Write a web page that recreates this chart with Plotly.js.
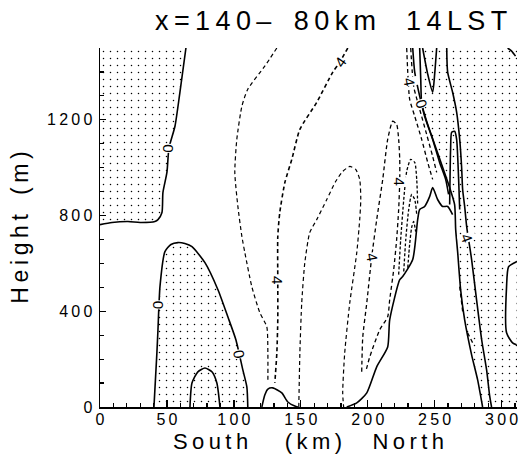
<!DOCTYPE html>
<html>
<head>
<meta charset="utf-8">
<script src="https://cdn.plot.ly/plotly-3.0.1.min.js"></script>
<style>html,body{margin:0;padding:0;background:#fff;}#chart{width:523px;height:454px;}</style>
</head>
<body>
<div id="chart"></div>
<script>
// ---------- axis ticks ----------
const xTickVals = [0, 50, 100, 150, 200, 250, 300];
const yTickVals = [0, 400, 800, 1200];
const X_RANGE = [0, 311.5];
const Y_RANGE = [0, 1500];

// ---------- contour lines (x: km, y: m) ----------
// 0-contour bounding the upper-left stippled area
const zeroTopLeftX = [64.2, 59.7, 56.0, 51.5, 50.0, 47.0, 46.3, 43.3, 41.0, 29.9, 20.9, 9.0, 0];
const zeroTopLeftY = [1500, 1315, 1173, 1081, 980, 896, 813, 783, 775, 771, 775, 771, 762];
// 0-contour dome near the ground (stippled)
const zeroDomeX = [40.3, 42.5, 43.3, 44.8, 48.5, 53.0, 58.2, 63.4, 68.7, 78.4, 88.1, 95.5, 101.5, 106.7, 109.7, 110.4];
const zeroDomeY = [0, 226, 323, 503, 649, 679, 687, 683, 670, 603, 490, 377, 281, 155, 84, 0];
// inner small dome
const innerDomeX = [67.2, 68.7, 73.1, 78.4, 83.6, 87.3, 89.6];
const innerDomeY = [0, 100, 147, 163, 147, 100, 0];
// small bump near 130 km
const bumpX = [120.9, 123.1, 125.4, 129.1, 135.8, 140.3, 145.5, 147.8];
const bumpY = [0, 50, 75, 80, 59, 21, 4, 0];
// dashed positive contours
const dashAX = [132.1, 123.1, 110.4, 106.0, 102.2, 100.7, 103.0, 106.0, 108.2, 113.4, 119.4, 124.6, 125.4, 125.4];
const dashAY = [1500, 1424, 1328, 1257, 1118, 980, 838, 712, 645, 503, 394, 335, 226, 101];
const dashBX = [185.1, 179.1, 173.9, 161.9, 149.3, 143.3, 138.1, 134.3, 132.8, 132.8, 132.8, 132.1, 130.6];
const dashBY = [1500, 1441, 1399, 1273, 1160, 1035, 938, 813, 712, 532, 364, 226, 101];
const dashCX = [148.5, 149.3, 150.7, 153.0, 156.7, 161.9, 169.4, 176.1, 181.3, 186.6, 191.0, 194.0, 194.8, 194.0, 191.8, 186.6, 182.8, 181.3, 182.0];
const dashCY = [0, 226, 436, 603, 729, 783, 867, 943, 984, 1005, 993, 951, 867, 783, 645, 436, 226, 59, 0];
const dashFX = [195.5, 196.3, 199.3, 203.0, 206.7, 211.2, 214.9, 218.7, 221.6, 223.1, 223.9, 223.9, 223.1, 221.6, 219.4, 216.4, 214.9, 209.0, 201.5, 198.5];
const dashFY = [147, 293, 436, 628, 783, 951, 1118, 1194, 1181, 1118, 1035, 943, 825, 700, 574, 448, 377, 323, 209, 147];
const dashD1X = [229.1, 229.9, 231.3, 235.1, 240.3, 244.8, 248.5];
const dashD1Y = [1500, 1399, 1286, 1215, 1118, 1022, 951];
const dashD2X = [232.1, 234.3, 238.8, 244.0, 248.5, 251.5];
const dashD2Y = [1500, 1340, 1244, 1139, 1047, 980];
const dashA1X = [223.1, 224.6, 226.9, 229.1, 232.1, 235.1, 236.6, 237.3];
const dashA1Y = [553, 699, 867, 984, 1035, 1022, 951, 846];
const dashA2X = [226.9, 228.4, 230.6, 232.8, 235.1, 236.6];
const dashA2Y = [566, 700, 825, 888, 867, 804];
const dashA3X = [229.9, 231.3, 232.8, 234.3, 235.8];
const dashA3Y = [582, 679, 750, 775, 733];
const dashE1X = [268.7, 271.0];
const dashE1Y = [503, 394];
const dashE2X = [274.6, 278.4];
const dashE2Y = [310, 268];
// solid lines on the north side
const mountainX = [184.3, 191.8, 199.3, 206.7, 214.9, 216.4, 223.9, 226.1, 233.6, 237.3, 238.8, 242.5, 246.3, 248.5, 252.2, 255.9, 259.7, 263.4];
const mountainY = [0, 17, 59, 168, 251, 364, 532, 545, 616, 783, 825, 838, 880, 917, 867, 838, 838, 804];
const zeroNorthX = [238.8, 239.6, 240.3, 244.0, 250.0, 256.0, 261.2, 264.9, 265.7, 267.2, 269.4, 272.4, 277.6, 282.1, 285.8];
const zeroNorthY = [1500, 1370, 1269, 1194, 1097, 1001, 917, 846, 741, 645, 490, 364, 218, 113, 0];
const solidS1X = [233.6, 235.1, 238.8, 242.5, 248.5, 253.7, 258.2, 260.4];
const solidS1Y = [1500, 1399, 1299, 1215, 1118, 1022, 951, 888];
const solidVX = [241.0, 244.8, 248.5, 250.0, 251.5];
const solidVY = [1500, 1391, 1315, 1391, 1500];
const solidS3X = [259.0, 259.7, 263.4, 266.4, 268.7, 270.1, 270.9, 272.4, 273.9, 277.6, 281.3, 285.1, 288.8, 291.0, 292.5];
const solidS3Y = [1500, 1399, 1315, 1232, 1118, 1005, 909, 838, 754, 616, 448, 281, 155, 50, 0];
const spikeX = [261.2, 261.9, 262.7, 264.9, 266.4, 267.9, 268.7];
const spikeY = [846, 1077, 1148, 1152, 1118, 951, 825];
const bracketX = [311.2, 305.2, 303.7, 303.7, 308.2, 311.2];
const bracketY = [607, 586, 503, 310, 268, 260];
const cornerArcX = [304.5, 307.5, 310.4];
const cornerArcY = [1500, 1487, 1466];

// ---------- contour labels ----------
const labelText = ['0', '0', '0', '0', '4', '4', '4', '4', '4', '4'];
const labelX = [51.5, 43.3, 103.7, 240.3, 132.8, 179.1, 231.3, 223.9, 203.0, 273.9];
const labelY = [1081, 427, 222, 1269, 532, 1441, 1361, 943, 628, 708];
const labelAngle = [90, 90, 80, 70, 90, -55, 80, 90, 80, 70];

// ---------- build ----------
const spaced = s => s.split('').join('\u2009');
const NB = n => '\u00a0'.repeat(n);

const pattern = {shape: '.', size: 7, solidity: 0.035, fgcolor: '#000', bgcolor: 'rgba(0,0,0,0)', fgopacity: 1};
function area(xs, ys, extraX, extraY, color) {
  return {x: xs.concat(extraX), y: ys.concat(extraY), type: 'scatter', mode: 'lines',
          line: {width: 0}, fill: 'toself', fillcolor: color || 'rgba(0,0,0,0)',
          fillpattern: color ? undefined : pattern, hoverinfo: 'skip', showlegend: false};
}
function line(xs, ys, dash, w) {
  return {x: xs, y: ys, type: 'scatter', mode: 'lines',
          line: {color: '#000', width: w || 1.6, dash: dash || 'solid', shape: 'spline', smoothing: 0.6},
          hoverinfo: 'skip', showlegend: false};
}

const traces = [
  area(zeroTopLeftX, zeroTopLeftY, [X_RANGE[0]], [Y_RANGE[1]]),
  area(zeroDomeX, zeroDomeY, [], []),
  area(zeroNorthX, zeroNorthY, [X_RANGE[1], X_RANGE[1]], [Y_RANGE[0], Y_RANGE[1]]),
  area(bracketX, bracketY, [], [], '#ffffff'),
  line(zeroTopLeftX, zeroTopLeftY),
  line(zeroDomeX, zeroDomeY),
  line(innerDomeX, innerDomeY),
  line(bumpX, bumpY),
  line(dashAX, dashAY, '4px,3px', 1.2),
  line(dashBX, dashBY, '4px,3px', 1.6),
  line(dashCX, dashCY, '4px,3px', 1.2),
  line(dashFX, dashFY, '4px,3px', 1.3),
  line(dashD1X, dashD1Y, '4px,3px', 1.3),
  line(dashD2X, dashD2Y, '4px,3px', 1.3),
  line(dashA1X, dashA1Y, '3px,2px', 1.3),
  line(dashA2X, dashA2Y, '3px,2px', 1.3),
  line(dashA3X, dashA3Y, '3px,2px', 1.3),
  line(dashE1X, dashE1Y, '4px,3px', 1.3),
  line(dashE2X, dashE2Y, '4px,3px', 1.3),
  line(mountainX, mountainY),
  line(zeroNorthX, zeroNorthY),
  line(solidS1X, solidS1Y),
  line(solidVX, solidVY),
  line(solidS3X, solidS3Y),
  line(spikeX, spikeY),
  line(bracketX, bracketY),
  line(cornerArcX, cornerArcY)
];

const annotations = labelText.map((t, i) => ({
  x: labelX[i], y: labelY[i], xref: 'x', yref: 'y', text: t, showarrow: false,
  textangle: labelAngle[i], bgcolor: '#ffffff', borderpad: 0,
  font: {family: 'Liberation Sans, Arial, sans-serif', size: 15, color: '#000'}
}));

const FONT = 'Liberation Sans, Arial, sans-serif';
const layout = {
  width: 523, height: 454,
  margin: {l: 100, r: 6, t: 48, b: 47},
  paper_bgcolor: '#fff', plot_bgcolor: '#fff',
  showlegend: false,
  title: {
    text: spaced('x=140\u2013') + NB(3) + spaced('80km') + NB(4) + spaced('14LST'),
    font: {family: FONT, size: 27, color: '#000'},
    x: 155 / 523, xanchor: 'left', y: 1 - 21 / 454, yanchor: 'middle'
  },
  xaxis: {
    range: X_RANGE, showgrid: false, zeroline: false, showline: true, linecolor: '#000', linewidth: 1.5,
    ticks: 'inside', ticklen: 7, tickwidth: 1.3, tickcolor: '#000', ticklabelstandoff: -3,
    tickvals: xTickVals, ticktext: xTickVals.map(v => spaced(String(v))),
    tickfont: {family: FONT, size: 16, color: '#000'},
    minor: {ticks: 'inside', dtick: 10, ticklen: 4, tickwidth: 1.2, tickcolor: '#000'},
    title: {text: spaced('South') + NB(6) + spaced('(km)') + NB(5) + spaced('North'),
            font: {family: FONT, size: 22, color: '#000'}, standoff: 10},
    fixedrange: true
  },
  yaxis: {
    range: Y_RANGE, showgrid: false, zeroline: false, showline: true, linecolor: '#000', linewidth: 1.5,
    ticks: 'inside', ticklen: 6, tickwidth: 1.3, tickcolor: '#000', ticklabelstandoff: 3,
    tickvals: yTickVals, ticktext: yTickVals.map(v => spaced(String(v))),
    tickfont: {family: FONT, size: 16, color: '#000'},
    minor: {ticks: 'inside', dtick: 100, ticklen: 4, tickwidth: 1.2, tickcolor: '#000'},
    title: {text: spaced('Height') + NB(3) + spaced('(m)'),
            font: {family: FONT, size: 23, color: '#000'}, standoff: 12},
    fixedrange: true
  },
  annotations: annotations
};

Plotly.newPlot('chart', traces, layout, {staticPlot: true, displayModeBar: false});
</script>
</body>
</html>
